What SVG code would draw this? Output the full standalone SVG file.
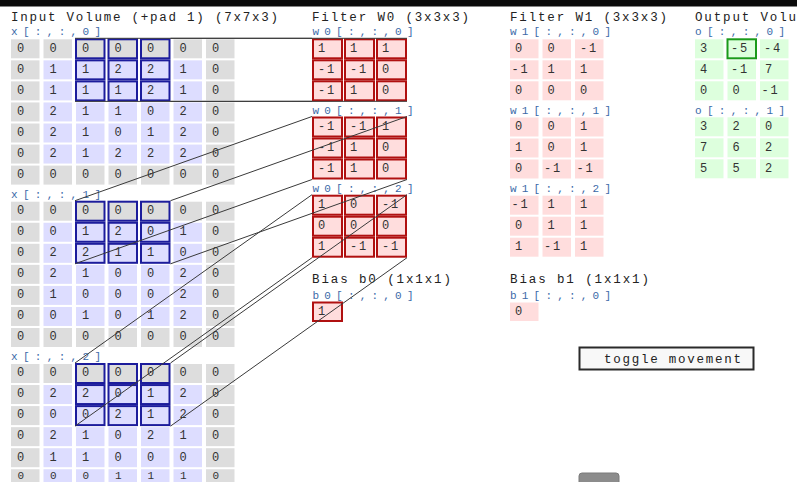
<svg xmlns="http://www.w3.org/2000/svg" width="797" height="482" viewBox="0 0 797 482">
<style>
.h{font-family:"Liberation Mono","DejaVu Sans Mono",monospace;font-size:12.5px;fill:#222}
.lb{font-family:"Liberation Mono","DejaVu Sans Mono",monospace;font-size:11px;fill:#3b6aa8}
.t{font-family:"Liberation Mono","DejaVu Sans Mono",monospace;font-size:12px;fill:#333;letter-spacing:1.8px}
.ts{font-family:"Liberation Mono","DejaVu Sans Mono",monospace;font-size:11px;fill:#333}
.p{fill:#dddddd}
.i{fill:#ddddff}
.w{fill:none;stroke:#1c1c9c;stroke-width:2}
.f{fill:#ffdddd;stroke:#b01010;stroke-width:2}
.g{fill:#ffdddd}
.o{fill:#ddffdd}
.hl{fill:none;stroke:#1a9a1a;stroke-width:2}
.c{stroke:#3a3a3a;stroke-width:1;fill:none}
</style>
<rect x="0" y="0" width="797" height="482" fill="#ffffff"/>
<rect x="0" y="0" width="797" height="6.5" fill="#0b0b0b"/>

<g id="title-input"><text class="h" x="11" y="20.7" textLength="267" lengthAdjust="spacing">Input Volume (+pad 1) (7x7x3)</text></g>

<g id="x0" transform="translate(0,39.3)">
<text class="lb" x="11" y="-4" textLength="90" lengthAdjust="spacing">x[:,:,0]</text>
<rect class="p" x="11" y="0" width="28.5" height="19"/><rect class="p" x="43.5" y="0" width="28.5" height="19"/><rect class="p" x="76" y="0" width="28.5" height="19"/><rect class="p" x="108.5" y="0" width="28.5" height="19"/><rect class="p" x="141" y="0" width="28.5" height="19"/><rect class="p" x="173.5" y="0" width="28.5" height="19"/><rect class="p" x="206" y="0" width="28.5" height="19"/>
<rect class="p" x="11" y="21.05" width="28.5" height="19"/><rect class="i" x="43.5" y="21.05" width="28.5" height="19"/><rect class="i" x="76" y="21.05" width="28.5" height="19"/><rect class="i" x="108.5" y="21.05" width="28.5" height="19"/><rect class="i" x="141" y="21.05" width="28.5" height="19"/><rect class="i" x="173.5" y="21.05" width="28.5" height="19"/><rect class="p" x="206" y="21.05" width="28.5" height="19"/>
<rect class="p" x="11" y="42.1" width="28.5" height="19"/><rect class="i" x="43.5" y="42.1" width="28.5" height="19"/><rect class="i" x="76" y="42.1" width="28.5" height="19"/><rect class="i" x="108.5" y="42.1" width="28.5" height="19"/><rect class="i" x="141" y="42.1" width="28.5" height="19"/><rect class="i" x="173.5" y="42.1" width="28.5" height="19"/><rect class="p" x="206" y="42.1" width="28.5" height="19"/>
<rect class="p" x="11" y="63.15" width="28.5" height="19"/><rect class="i" x="43.5" y="63.15" width="28.5" height="19"/><rect class="i" x="76" y="63.15" width="28.5" height="19"/><rect class="i" x="108.5" y="63.15" width="28.5" height="19"/><rect class="i" x="141" y="63.15" width="28.5" height="19"/><rect class="i" x="173.5" y="63.15" width="28.5" height="19"/><rect class="p" x="206" y="63.15" width="28.5" height="19"/>
<rect class="p" x="11" y="84.2" width="28.5" height="19"/><rect class="i" x="43.5" y="84.2" width="28.5" height="19"/><rect class="i" x="76" y="84.2" width="28.5" height="19"/><rect class="i" x="108.5" y="84.2" width="28.5" height="19"/><rect class="i" x="141" y="84.2" width="28.5" height="19"/><rect class="i" x="173.5" y="84.2" width="28.5" height="19"/><rect class="p" x="206" y="84.2" width="28.5" height="19"/>
<rect class="p" x="11" y="105.25" width="28.5" height="19"/><rect class="i" x="43.5" y="105.25" width="28.5" height="19"/><rect class="i" x="76" y="105.25" width="28.5" height="19"/><rect class="i" x="108.5" y="105.25" width="28.5" height="19"/><rect class="i" x="141" y="105.25" width="28.5" height="19"/><rect class="i" x="173.5" y="105.25" width="28.5" height="19"/><rect class="p" x="206" y="105.25" width="28.5" height="19"/>
<rect class="p" x="11" y="126.3" width="28.5" height="19"/><rect class="p" x="43.5" y="126.3" width="28.5" height="19"/><rect class="p" x="76" y="126.3" width="28.5" height="19"/><rect class="p" x="108.5" y="126.3" width="28.5" height="19"/><rect class="p" x="141" y="126.3" width="28.5" height="19"/><rect class="p" x="173.5" y="126.3" width="28.5" height="19"/><rect class="p" x="206" y="126.3" width="28.5" height="19"/>
<rect class="w" x="76" y="0" width="28.5" height="19"/><rect class="w" x="108.5" y="0" width="28.5" height="19"/><rect class="w" x="141" y="0" width="28.5" height="19"/>
<rect class="w" x="76" y="21.05" width="28.5" height="19"/><rect class="w" x="108.5" y="21.05" width="28.5" height="19"/><rect class="w" x="141" y="21.05" width="28.5" height="19"/>
<rect class="w" x="76" y="42.1" width="28.5" height="19"/><rect class="w" x="108.5" y="42.1" width="28.5" height="19"/><rect class="w" x="141" y="42.1" width="28.5" height="19"/>
<text class="t" x="17" y="12.3">0</text><text class="t" x="49.5" y="12.3">0</text><text class="t" x="82" y="12.3">0</text><text class="t" x="114.5" y="12.3">0</text><text class="t" x="147" y="12.3">0</text><text class="t" x="179.5" y="12.3">0</text><text class="t" x="212" y="12.3">0</text>
<text class="t" x="17" y="33.35">0</text><text class="t" x="49.5" y="33.35">1</text><text class="t" x="82" y="33.35">1</text><text class="t" x="114.5" y="33.35">2</text><text class="t" x="147" y="33.35">2</text><text class="t" x="179.5" y="33.35">1</text><text class="t" x="212" y="33.35">0</text>
<text class="t" x="17" y="54.4">0</text><text class="t" x="49.5" y="54.4">1</text><text class="t" x="82" y="54.4">1</text><text class="t" x="114.5" y="54.4">1</text><text class="t" x="147" y="54.4">2</text><text class="t" x="179.5" y="54.4">1</text><text class="t" x="212" y="54.4">0</text>
<text class="t" x="17" y="75.45">0</text><text class="t" x="49.5" y="75.45">2</text><text class="t" x="82" y="75.45">1</text><text class="t" x="114.5" y="75.45">1</text><text class="t" x="147" y="75.45">0</text><text class="t" x="179.5" y="75.45">2</text><text class="t" x="212" y="75.45">0</text>
<text class="t" x="17" y="96.5">0</text><text class="t" x="49.5" y="96.5">2</text><text class="t" x="82" y="96.5">1</text><text class="t" x="114.5" y="96.5">0</text><text class="t" x="147" y="96.5">1</text><text class="t" x="179.5" y="96.5">2</text><text class="t" x="212" y="96.5">0</text>
<text class="t" x="17" y="117.55">0</text><text class="t" x="49.5" y="117.55">2</text><text class="t" x="82" y="117.55">1</text><text class="t" x="114.5" y="117.55">2</text><text class="t" x="147" y="117.55">2</text><text class="t" x="179.5" y="117.55">2</text><text class="t" x="212" y="117.55">0</text>
<text class="t" x="17" y="138.6">0</text><text class="t" x="49.5" y="138.6">0</text><text class="t" x="82" y="138.6">0</text><text class="t" x="114.5" y="138.6">0</text><text class="t" x="147" y="138.6">0</text><text class="t" x="179.5" y="138.6">0</text><text class="t" x="212" y="138.6">0</text>
</g>

<g id="x1" transform="translate(0,201.7)">
<text class="lb" x="11" y="-4" textLength="90" lengthAdjust="spacing">x[:,:,1]</text>
<rect class="p" x="11" y="0" width="28.5" height="19"/><rect class="p" x="43.5" y="0" width="28.5" height="19"/><rect class="p" x="76" y="0" width="28.5" height="19"/><rect class="p" x="108.5" y="0" width="28.5" height="19"/><rect class="p" x="141" y="0" width="28.5" height="19"/><rect class="p" x="173.5" y="0" width="28.5" height="19"/><rect class="p" x="206" y="0" width="28.5" height="19"/>
<rect class="p" x="11" y="21.05" width="28.5" height="19"/><rect class="i" x="43.5" y="21.05" width="28.5" height="19"/><rect class="i" x="76" y="21.05" width="28.5" height="19"/><rect class="i" x="108.5" y="21.05" width="28.5" height="19"/><rect class="i" x="141" y="21.05" width="28.5" height="19"/><rect class="i" x="173.5" y="21.05" width="28.5" height="19"/><rect class="p" x="206" y="21.05" width="28.5" height="19"/>
<rect class="p" x="11" y="42.1" width="28.5" height="19"/><rect class="i" x="43.5" y="42.1" width="28.5" height="19"/><rect class="i" x="76" y="42.1" width="28.5" height="19"/><rect class="i" x="108.5" y="42.1" width="28.5" height="19"/><rect class="i" x="141" y="42.1" width="28.5" height="19"/><rect class="i" x="173.5" y="42.1" width="28.5" height="19"/><rect class="p" x="206" y="42.1" width="28.5" height="19"/>
<rect class="p" x="11" y="63.15" width="28.5" height="19"/><rect class="i" x="43.5" y="63.15" width="28.5" height="19"/><rect class="i" x="76" y="63.15" width="28.5" height="19"/><rect class="i" x="108.5" y="63.15" width="28.5" height="19"/><rect class="i" x="141" y="63.15" width="28.5" height="19"/><rect class="i" x="173.5" y="63.15" width="28.5" height="19"/><rect class="p" x="206" y="63.15" width="28.5" height="19"/>
<rect class="p" x="11" y="84.2" width="28.5" height="19"/><rect class="i" x="43.5" y="84.2" width="28.5" height="19"/><rect class="i" x="76" y="84.2" width="28.5" height="19"/><rect class="i" x="108.5" y="84.2" width="28.5" height="19"/><rect class="i" x="141" y="84.2" width="28.5" height="19"/><rect class="i" x="173.5" y="84.2" width="28.5" height="19"/><rect class="p" x="206" y="84.2" width="28.5" height="19"/>
<rect class="p" x="11" y="105.25" width="28.5" height="19"/><rect class="i" x="43.5" y="105.25" width="28.5" height="19"/><rect class="i" x="76" y="105.25" width="28.5" height="19"/><rect class="i" x="108.5" y="105.25" width="28.5" height="19"/><rect class="i" x="141" y="105.25" width="28.5" height="19"/><rect class="i" x="173.5" y="105.25" width="28.5" height="19"/><rect class="p" x="206" y="105.25" width="28.5" height="19"/>
<rect class="p" x="11" y="126.3" width="28.5" height="19"/><rect class="p" x="43.5" y="126.3" width="28.5" height="19"/><rect class="p" x="76" y="126.3" width="28.5" height="19"/><rect class="p" x="108.5" y="126.3" width="28.5" height="19"/><rect class="p" x="141" y="126.3" width="28.5" height="19"/><rect class="p" x="173.5" y="126.3" width="28.5" height="19"/><rect class="p" x="206" y="126.3" width="28.5" height="19"/>
<rect class="w" x="76" y="0" width="28.5" height="19"/><rect class="w" x="108.5" y="0" width="28.5" height="19"/><rect class="w" x="141" y="0" width="28.5" height="19"/>
<rect class="w" x="76" y="21.05" width="28.5" height="19"/><rect class="w" x="108.5" y="21.05" width="28.5" height="19"/><rect class="w" x="141" y="21.05" width="28.5" height="19"/>
<rect class="w" x="76" y="42.1" width="28.5" height="19"/><rect class="w" x="108.5" y="42.1" width="28.5" height="19"/><rect class="w" x="141" y="42.1" width="28.5" height="19"/>
<text class="t" x="17" y="12.3">0</text><text class="t" x="49.5" y="12.3">0</text><text class="t" x="82" y="12.3">0</text><text class="t" x="114.5" y="12.3">0</text><text class="t" x="147" y="12.3">0</text><text class="t" x="179.5" y="12.3">0</text><text class="t" x="212" y="12.3">0</text>
<text class="t" x="17" y="33.35">0</text><text class="t" x="49.5" y="33.35">0</text><text class="t" x="82" y="33.35">1</text><text class="t" x="114.5" y="33.35">2</text><text class="t" x="147" y="33.35">0</text><text class="t" x="179.5" y="33.35">1</text><text class="t" x="212" y="33.35">0</text>
<text class="t" x="17" y="54.4">0</text><text class="t" x="49.5" y="54.4">2</text><text class="t" x="82" y="54.4">2</text><text class="t" x="114.5" y="54.4">1</text><text class="t" x="147" y="54.4">1</text><text class="t" x="179.5" y="54.4">0</text><text class="t" x="212" y="54.4">0</text>
<text class="t" x="17" y="75.45">0</text><text class="t" x="49.5" y="75.45">2</text><text class="t" x="82" y="75.45">1</text><text class="t" x="114.5" y="75.45">0</text><text class="t" x="147" y="75.45">0</text><text class="t" x="179.5" y="75.45">2</text><text class="t" x="212" y="75.45">0</text>
<text class="t" x="17" y="96.5">0</text><text class="t" x="49.5" y="96.5">1</text><text class="t" x="82" y="96.5">0</text><text class="t" x="114.5" y="96.5">0</text><text class="t" x="147" y="96.5">0</text><text class="t" x="179.5" y="96.5">2</text><text class="t" x="212" y="96.5">0</text>
<text class="t" x="17" y="117.55">0</text><text class="t" x="49.5" y="117.55">0</text><text class="t" x="82" y="117.55">1</text><text class="t" x="114.5" y="117.55">0</text><text class="t" x="147" y="117.55">1</text><text class="t" x="179.5" y="117.55">2</text><text class="t" x="212" y="117.55">0</text>
<text class="t" x="17" y="138.6">0</text><text class="t" x="49.5" y="138.6">0</text><text class="t" x="82" y="138.6">0</text><text class="t" x="114.5" y="138.6">0</text><text class="t" x="147" y="138.6">0</text><text class="t" x="179.5" y="138.6">0</text><text class="t" x="212" y="138.6">0</text>
</g>

<g id="x2" transform="translate(0,364)">
<text class="lb" x="11" y="-4" textLength="90" lengthAdjust="spacing">x[:,:,2]</text>
<rect class="p" x="11" y="0" width="28.5" height="19"/><rect class="p" x="43.5" y="0" width="28.5" height="19"/><rect class="p" x="76" y="0" width="28.5" height="19"/><rect class="p" x="108.5" y="0" width="28.5" height="19"/><rect class="p" x="141" y="0" width="28.5" height="19"/><rect class="p" x="173.5" y="0" width="28.5" height="19"/><rect class="p" x="206" y="0" width="28.5" height="19"/>
<rect class="p" x="11" y="21.05" width="28.5" height="19"/><rect class="i" x="43.5" y="21.05" width="28.5" height="19"/><rect class="i" x="76" y="21.05" width="28.5" height="19"/><rect class="i" x="108.5" y="21.05" width="28.5" height="19"/><rect class="i" x="141" y="21.05" width="28.5" height="19"/><rect class="i" x="173.5" y="21.05" width="28.5" height="19"/><rect class="p" x="206" y="21.05" width="28.5" height="19"/>
<rect class="p" x="11" y="42.1" width="28.5" height="19"/><rect class="i" x="43.5" y="42.1" width="28.5" height="19"/><rect class="i" x="76" y="42.1" width="28.5" height="19"/><rect class="i" x="108.5" y="42.1" width="28.5" height="19"/><rect class="i" x="141" y="42.1" width="28.5" height="19"/><rect class="i" x="173.5" y="42.1" width="28.5" height="19"/><rect class="p" x="206" y="42.1" width="28.5" height="19"/>
<rect class="p" x="11" y="63.15" width="28.5" height="19"/><rect class="i" x="43.5" y="63.15" width="28.5" height="19"/><rect class="i" x="76" y="63.15" width="28.5" height="19"/><rect class="i" x="108.5" y="63.15" width="28.5" height="19"/><rect class="i" x="141" y="63.15" width="28.5" height="19"/><rect class="i" x="173.5" y="63.15" width="28.5" height="19"/><rect class="p" x="206" y="63.15" width="28.5" height="19"/>
<rect class="p" x="11" y="84.2" width="28.5" height="19"/><rect class="i" x="43.5" y="84.2" width="28.5" height="19"/><rect class="i" x="76" y="84.2" width="28.5" height="19"/><rect class="i" x="108.5" y="84.2" width="28.5" height="19"/><rect class="i" x="141" y="84.2" width="28.5" height="19"/><rect class="i" x="173.5" y="84.2" width="28.5" height="19"/><rect class="p" x="206" y="84.2" width="28.5" height="19"/>
<rect class="p" x="11" y="105.25" width="28.5" height="12.75"/><rect class="i" x="43.5" y="105.25" width="28.5" height="12.75"/><rect class="i" x="76" y="105.25" width="28.5" height="12.75"/><rect class="i" x="108.5" y="105.25" width="28.5" height="12.75"/><rect class="i" x="141" y="105.25" width="28.5" height="12.75"/><rect class="i" x="173.5" y="105.25" width="28.5" height="12.75"/><rect class="p" x="206" y="105.25" width="28.5" height="12.75"/>
<rect class="w" x="76" y="0" width="28.5" height="19"/><rect class="w" x="108.5" y="0" width="28.5" height="19"/><rect class="w" x="141" y="0" width="28.5" height="19"/>
<rect class="w" x="76" y="21.05" width="28.5" height="19"/><rect class="w" x="108.5" y="21.05" width="28.5" height="19"/><rect class="w" x="141" y="21.05" width="28.5" height="19"/>
<rect class="w" x="76" y="42.1" width="28.5" height="19"/><rect class="w" x="108.5" y="42.1" width="28.5" height="19"/><rect class="w" x="141" y="42.1" width="28.5" height="19"/>
<text class="t" x="17" y="12.3">0</text><text class="t" x="49.5" y="12.3">0</text><text class="t" x="82" y="12.3">0</text><text class="t" x="114.5" y="12.3">0</text><text class="t" x="147" y="12.3">0</text><text class="t" x="179.5" y="12.3">0</text><text class="t" x="212" y="12.3">0</text>
<text class="t" x="17" y="33.35">0</text><text class="t" x="49.5" y="33.35">2</text><text class="t" x="82" y="33.35">2</text><text class="t" x="114.5" y="33.35">0</text><text class="t" x="147" y="33.35">1</text><text class="t" x="179.5" y="33.35">2</text><text class="t" x="212" y="33.35">0</text>
<text class="t" x="17" y="54.4">0</text><text class="t" x="49.5" y="54.4">0</text><text class="t" x="82" y="54.4">0</text><text class="t" x="114.5" y="54.4">2</text><text class="t" x="147" y="54.4">1</text><text class="t" x="179.5" y="54.4">2</text><text class="t" x="212" y="54.4">0</text>
<text class="t" x="17" y="75.45">0</text><text class="t" x="49.5" y="75.45">2</text><text class="t" x="82" y="75.45">1</text><text class="t" x="114.5" y="75.45">0</text><text class="t" x="147" y="75.45">2</text><text class="t" x="179.5" y="75.45">1</text><text class="t" x="212" y="75.45">0</text>
<text class="t" x="17" y="96.5">0</text><text class="t" x="49.5" y="96.5">1</text><text class="t" x="82" y="96.5">1</text><text class="t" x="114.5" y="96.5">0</text><text class="t" x="147" y="96.5">0</text><text class="t" x="179.5" y="96.5">0</text><text class="t" x="212" y="96.5">0</text>
<text class="ts" x="17.5" y="114.6">0</text><text class="ts" x="50" y="114.6">0</text><text class="ts" x="82.5" y="114.6">0</text><text class="ts" x="115" y="114.6">1</text><text class="ts" x="147.5" y="114.6">1</text><text class="ts" x="180" y="114.6">1</text><text class="ts" x="212.5" y="114.6">0</text>
</g>

<g id="title-w0"><text class="h" x="312" y="20.7" textLength="157" lengthAdjust="spacing">Filter W0 (3x3x3)</text></g>

<g id="w0_0" transform="translate(313,39.3)">
<text class="lb" x="-0.5" y="-4" textLength="101" lengthAdjust="spacing">w0[:,:,0]</text>
<rect class="f" x="0" y="0" width="29" height="19"/><rect class="f" x="32" y="0" width="29" height="19"/><rect class="f" x="64" y="0" width="29" height="19"/>
<rect class="f" x="0" y="21" width="29" height="19"/><rect class="f" x="32" y="21" width="29" height="19"/><rect class="f" x="64" y="21" width="29" height="19"/>
<rect class="f" x="0" y="42" width="29" height="19"/><rect class="f" x="32" y="42" width="29" height="19"/><rect class="f" x="64" y="42" width="29" height="19"/>
<text class="t" x="5" y="12.3">1</text><text class="t" x="37" y="12.3">1</text><text class="t" x="69" y="12.3">1</text>
<text class="t" x="5" y="33.3">-1</text><text class="t" x="37" y="33.3">-1</text><text class="t" x="69" y="33.3">0</text>
<text class="t" x="5" y="54.3">-1</text><text class="t" x="37" y="54.3">1</text><text class="t" x="69" y="54.3">0</text>
</g>

<g id="w0_1" transform="translate(313,117.5)">
<text class="lb" x="-0.5" y="-3.5" textLength="101" lengthAdjust="spacing">w0[:,:,1]</text>
<rect class="f" x="0" y="0" width="29" height="19"/><rect class="f" x="32" y="0" width="29" height="19"/><rect class="f" x="64" y="0" width="29" height="19"/>
<rect class="f" x="0" y="21" width="29" height="19"/><rect class="f" x="32" y="21" width="29" height="19"/><rect class="f" x="64" y="21" width="29" height="19"/>
<rect class="f" x="0" y="42" width="29" height="19"/><rect class="f" x="32" y="42" width="29" height="19"/><rect class="f" x="64" y="42" width="29" height="19"/>
<text class="t" x="5" y="12.3">-1</text><text class="t" x="37" y="12.3">-1</text><text class="t" x="69" y="12.3">1</text>
<text class="t" x="5" y="33.3">-1</text><text class="t" x="37" y="33.3">1</text><text class="t" x="69" y="33.3">0</text>
<text class="t" x="5" y="54.3">-1</text><text class="t" x="37" y="54.3">1</text><text class="t" x="69" y="54.3">0</text>
</g>

<g id="w0_2" transform="translate(313,195.7)">
<text class="lb" x="-0.5" y="-3.5" textLength="101" lengthAdjust="spacing">w0[:,:,2]</text>
<rect class="f" x="0" y="0" width="29" height="19"/><rect class="f" x="32" y="0" width="29" height="19"/><rect class="f" x="64" y="0" width="29" height="19"/>
<rect class="f" x="0" y="21" width="29" height="19"/><rect class="f" x="32" y="21" width="29" height="19"/><rect class="f" x="64" y="21" width="29" height="19"/>
<rect class="f" x="0" y="42" width="29" height="19"/><rect class="f" x="32" y="42" width="29" height="19"/><rect class="f" x="64" y="42" width="29" height="19"/>
<text class="t" x="5" y="12.3">1</text><text class="t" x="37" y="12.3">0</text><text class="t" x="69" y="12.3">-1</text>
<text class="t" x="5" y="33.3">0</text><text class="t" x="37" y="33.3">0</text><text class="t" x="69" y="33.3">0</text>
<text class="t" x="5" y="54.3">1</text><text class="t" x="37" y="54.3">-1</text><text class="t" x="69" y="54.3">-1</text>
</g>

<g id="b0">
<text class="h" x="312" y="283" textLength="139" lengthAdjust="spacing">Bias b0 (1x1x1)</text>
<text class="lb" x="312.5" y="298.5" textLength="101" lengthAdjust="spacing">b0[:,:,0]</text>
<rect class="f" x="313" y="302.5" width="29" height="18.5"/>
<text class="t" x="318" y="314.8">1</text>
</g>

<g id="title-w1"><text class="h" x="510" y="20.7" textLength="157" lengthAdjust="spacing">Filter W1 (3x3x3)</text></g>

<g id="w1_0" transform="translate(510,39.3)">
<text class="lb" x="0" y="-4" textLength="101" lengthAdjust="spacing">w1[:,:,0]</text>
<rect class="g" x="0" y="0" width="28.5" height="19"/><rect class="g" x="32.5" y="0" width="28.5" height="19"/><rect class="g" x="65" y="0" width="28.5" height="19"/>
<rect class="g" x="0" y="21" width="28.5" height="19"/><rect class="g" x="32.5" y="21" width="28.5" height="19"/><rect class="g" x="65" y="21" width="28.5" height="19"/>
<rect class="g" x="0" y="42" width="28.5" height="19"/><rect class="g" x="32.5" y="42" width="28.5" height="19"/><rect class="g" x="65" y="42" width="28.5" height="19"/>
<text class="t" x="5" y="12.3">0</text><text class="t" x="37.5" y="12.3">0</text><text class="t" x="70" y="12.3">-1</text>
<text class="t" x="1.5" y="33.3">-1</text><text class="t" x="37.5" y="33.3">1</text><text class="t" x="70" y="33.3">1</text>
<text class="t" x="5" y="54.3">0</text><text class="t" x="37.5" y="54.3">0</text><text class="t" x="70" y="54.3">0</text>
</g>

<g id="w1_1" transform="translate(510,117.5)">
<text class="lb" x="0" y="-3.5" textLength="101" lengthAdjust="spacing">w1[:,:,1]</text>
<rect class="g" x="0" y="0" width="28.5" height="19"/><rect class="g" x="32.5" y="0" width="28.5" height="19"/><rect class="g" x="65" y="0" width="28.5" height="19"/>
<rect class="g" x="0" y="21" width="28.5" height="19"/><rect class="g" x="32.5" y="21" width="28.5" height="19"/><rect class="g" x="65" y="21" width="28.5" height="19"/>
<rect class="g" x="0" y="42" width="28.5" height="19"/><rect class="g" x="32.5" y="42" width="28.5" height="19"/><rect class="g" x="65" y="42" width="28.5" height="19"/>
<text class="t" x="5" y="12.3">0</text><text class="t" x="37.5" y="12.3">0</text><text class="t" x="70" y="12.3">1</text>
<text class="t" x="5" y="33.3">1</text><text class="t" x="37.5" y="33.3">0</text><text class="t" x="70" y="33.3">1</text>
<text class="t" x="5" y="54.3">0</text><text class="t" x="34" y="54.3">-1</text><text class="t" x="66.5" y="54.3">-1</text>
</g>

<g id="w1_2" transform="translate(510,195.7)">
<text class="lb" x="0" y="-3.5" textLength="101" lengthAdjust="spacing">w1[:,:,2]</text>
<rect class="g" x="0" y="0" width="28.5" height="19"/><rect class="g" x="32.5" y="0" width="28.5" height="19"/><rect class="g" x="65" y="0" width="28.5" height="19"/>
<rect class="g" x="0" y="21" width="28.5" height="19"/><rect class="g" x="32.5" y="21" width="28.5" height="19"/><rect class="g" x="65" y="21" width="28.5" height="19"/>
<rect class="g" x="0" y="42" width="28.5" height="19"/><rect class="g" x="32.5" y="42" width="28.5" height="19"/><rect class="g" x="65" y="42" width="28.5" height="19"/>
<text class="t" x="1.5" y="12.3">-1</text><text class="t" x="37.5" y="12.3">1</text><text class="t" x="70" y="12.3">1</text>
<text class="t" x="5" y="33.3">0</text><text class="t" x="37.5" y="33.3">1</text><text class="t" x="70" y="33.3">1</text>
<text class="t" x="5" y="54.3">1</text><text class="t" x="34" y="54.3">-1</text><text class="t" x="70" y="54.3">1</text>
</g>

<g id="b1">
<text class="h" x="510" y="283" textLength="139" lengthAdjust="spacing">Bias b1 (1x1x1)</text>
<text class="lb" x="510" y="298.5" textLength="101" lengthAdjust="spacing">b1[:,:,0]</text>
<rect class="g" x="510" y="302.5" width="28.5" height="18.5"/>
<text class="t" x="515" y="314.8">0</text>
</g>

<g id="title-out"><text class="h" x="695" y="20.7" textLength="101" lengthAdjust="spacing">Output Volu</text></g>

<g id="o_0" transform="translate(695,39.3)">
<text class="lb" x="0" y="-4" textLength="90" lengthAdjust="spacing">o[:,:,0]</text>
<rect class="o" x="0" y="0" width="28.5" height="19"/><rect class="o" x="32.5" y="0" width="28.5" height="19"/><rect class="o" x="65" y="0" width="28.5" height="19"/>
<rect class="o" x="0" y="21" width="28.5" height="19"/><rect class="o" x="32.5" y="21" width="28.5" height="19"/><rect class="o" x="65" y="21" width="28.5" height="19"/>
<rect class="o" x="0" y="42" width="28.5" height="19"/><rect class="o" x="32.5" y="42" width="28.5" height="19"/><rect class="o" x="65" y="42" width="28.5" height="19"/>
<rect class="hl" x="32.5" y="0" width="28.5" height="19"/>
<text class="t" x="5" y="12.3">3</text><text class="t" x="36" y="12.3">-5</text><text class="t" x="69" y="12.3">-4</text>
<text class="t" x="5" y="33.3">4</text><text class="t" x="36" y="33.3">-1</text><text class="t" x="70" y="33.3">7</text>
<text class="t" x="5" y="54.3">0</text><text class="t" x="37.5" y="54.3">0</text><text class="t" x="66.5" y="54.3">-1</text>
</g>

<g id="o_1" transform="translate(695,117.3)">
<text class="lb" x="0" y="-3.5" textLength="90" lengthAdjust="spacing">o[:,:,1]</text>
<rect class="o" x="0" y="0" width="28.5" height="19"/><rect class="o" x="32.5" y="0" width="28.5" height="19"/><rect class="o" x="65" y="0" width="28.5" height="19"/>
<rect class="o" x="0" y="21" width="28.5" height="19"/><rect class="o" x="32.5" y="21" width="28.5" height="19"/><rect class="o" x="65" y="21" width="28.5" height="19"/>
<rect class="o" x="0" y="42" width="28.5" height="19"/><rect class="o" x="32.5" y="42" width="28.5" height="19"/><rect class="o" x="65" y="42" width="28.5" height="19"/>
<text class="t" x="5" y="12.3">3</text><text class="t" x="37.5" y="12.3">2</text><text class="t" x="70" y="12.3">0</text>
<text class="t" x="5" y="33.3">7</text><text class="t" x="37.5" y="33.3">6</text><text class="t" x="70" y="33.3">2</text>
<text class="t" x="5" y="54.3">5</text><text class="t" x="37.5" y="54.3">5</text><text class="t" x="70" y="54.3">2</text>
</g>

<g id="toggle">
<rect x="579.5" y="347.5" width="174" height="22" fill="#f8f8f8" stroke="#2a2a2a" stroke-width="2"/>
<text class="h" x="604" y="363" textLength="137" lengthAdjust="spacing">toggle movement</text>
</g>

<g id="badge">
<rect x="579" y="473" width="40" height="14" rx="3" fill="#8c8c8c" stroke="#7a7a7a"/>
</g>

<g id="connectors">
<line class="c" x1="75" y1="38.3" x2="312" y2="38.3"/>
<line class="c" x1="170.5" y1="38.3" x2="407" y2="38.3"/>
<line class="c" x1="75" y1="101.4" x2="312" y2="101.3"/>
<line class="c" x1="170.5" y1="101.4" x2="407" y2="101.3"/>
<line class="c" x1="75" y1="200.7" x2="312" y2="116.5"/>
<line class="c" x1="170.5" y1="200.7" x2="407" y2="116.5"/>
<line class="c" x1="75" y1="263.8" x2="312" y2="179.5"/>
<line class="c" x1="170.5" y1="263.8" x2="407" y2="179.5"/>
<line class="c" x1="75" y1="363" x2="312" y2="194.7"/>
<line class="c" x1="170.5" y1="363" x2="407" y2="194.7"/>
<line class="c" x1="75" y1="426.1" x2="312" y2="257.7"/>
<line class="c" x1="170.5" y1="426.1" x2="407" y2="257.7"/>
</g>
</svg>
